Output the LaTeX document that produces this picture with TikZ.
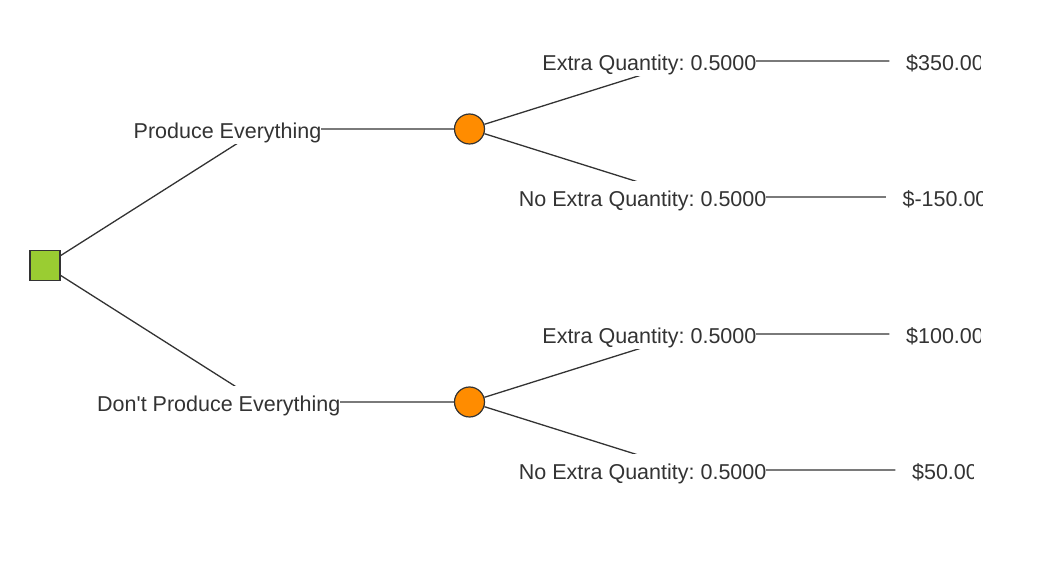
\documentclass[tikz,border=0pt]{standalone}
\usepackage{fontspec}
\setmainfont{Liberation Sans}
\frenchspacing
\definecolor{treegray}{HTML}{333333}
\definecolor{decisiongreen}{HTML}{9ACD32}
\definecolor{chanceorange}{HTML}{FF8C00}
\begin{document}
\begin{tikzpicture}[
  x=0.5pt, y=-0.5pt,
  line width=0.65pt,
  every node/.style={font=\fontsize{10.75}{12}\selectfont, text=treegray},
  decision/.style={rectangle, draw=treegray, fill=decisiongreen, line width=0.6pt, minimum size=15pt, inner sep=0pt},
  chance/.style={circle, draw=treegray, fill=chanceorange, line width=0.6pt, minimum size=15pt, inner sep=0pt},
  branchlabel/.style={fill=white, anchor=east, inner xsep=0pt, inner ysep=1.6pt, text height=11pt, text depth=1.3pt},
  payoff/.style={inner xsep=8pt, inner ysep=1.6pt, text height=11pt, text depth=1.3pt}
]
  \useasboundingbox (0,0) rectangle (1057,561);

  % ==========================================
  % 1. NODES OF THE TREE
  % ==========================================
  \node[decision] (dec) at (45,265.5) {};
  \node[chance] (ch1) at (469.5,129) {};
  \node[chance] (ch2) at (469.5,402) {};

  % bend points of the branches
  \coordinate (p1) at (260,129);
  \coordinate (p2) at (260,402);
  \coordinate (p3) at (686,61);
  \coordinate (p4) at (686,197);
  \coordinate (p5) at (686,334);
  \coordinate (p6) at (686,470);

  % payoffs (cut off at the right edge)
  \begin{scope}
    \clip (880,30) rectangle (980,90);
    \node[payoff] (v1) at (945,61) {\$350.00};
  \end{scope}
  \begin{scope}
    \clip (880,166) rectangle (982,226);
    \node[payoff] (v2) at (945,197) {\$-150.00};
  \end{scope}
  \begin{scope}
    \clip (880,303) rectangle (980,363);
    \node[payoff] (v3) at (945,334) {\$100.00};
  \end{scope}
  \begin{scope}
    \clip (880,439) rectangle (973,499);
    \node[payoff] (v4) at (945,470) {\$50.00};
  \end{scope}

  % ==========================================
  % 2. BRANCHES
  % ==========================================
  \draw[treegray] (dec) -- (p1) -- (ch1);
  \draw[treegray] (dec) -- (p2) -- (ch2);

  \draw[treegray] (ch1) -- (p3) -- (v1.west);
  \draw[treegray] (ch1) -- (p4) -- (v2.west);
  \draw[treegray] (ch2) -- (p5) -- (v3.west);
  \draw[treegray] (ch2) -- (p6) -- (v4.west);

  % ==========================================
  % 3. LABELS (drawn over the branches)
  % ==========================================
  \node[branchlabel] (produce) at (322,129) {Produce Everything};
  \node[branchlabel] (dontproduce) at (341,402) {Don\textquotesingle t Produce Everything};

  \node[branchlabel] (extra1) at (757,61) {Extra Quantity: 0.5000};
  \node[branchlabel] (noextra1) at (767,197) {No Extra Quantity: 0.5000};
  \node[branchlabel] (extra2) at (757,334) {Extra Quantity: 0.5000};
  \node[branchlabel] (noextra2) at (767,470) {No Extra Quantity: 0.5000};

\end{tikzpicture}
\end{document}
